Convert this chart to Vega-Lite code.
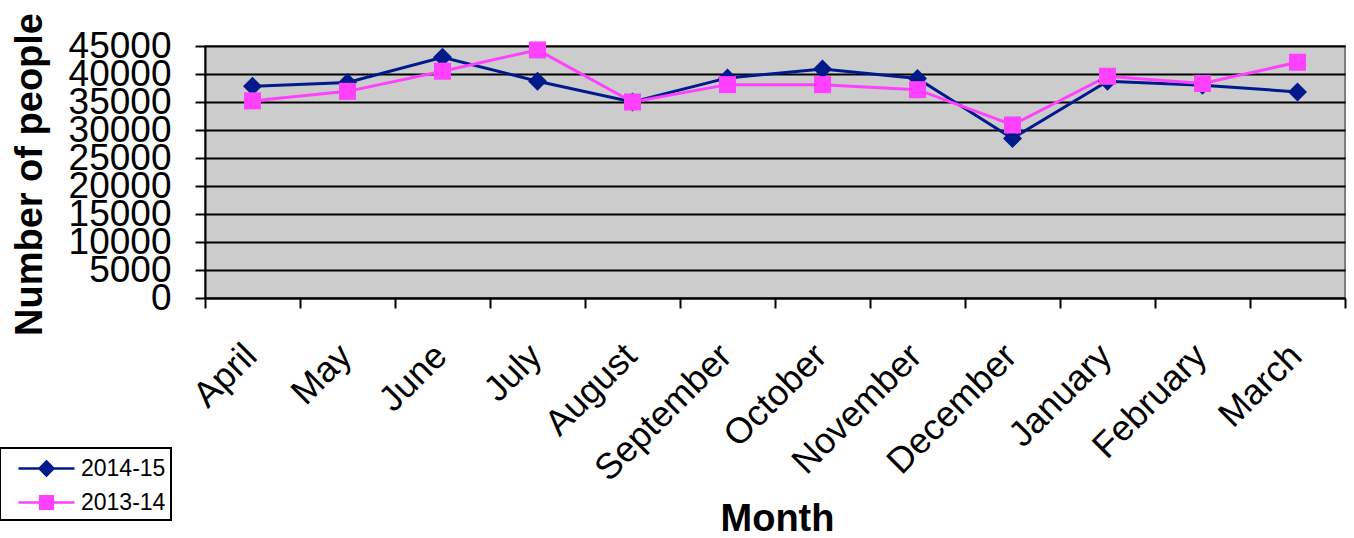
{
  "$schema": "https://vega.github.io/schema/vega-lite/v6.json",
  "autosize": "none",
  "width": 1140,
  "height": 252,
  "padding": {"left": 205, "top": 46, "right": 9, "bottom": 240},
  "background": "white",
  "config": {
    "font": "Liberation Sans",
    "view": {"fill": "#CCCCCC", "stroke": "#808080", "strokeWidth": 2}
  },
  "data": {
    "values": [
      {"month": "April", "series": "2014-15", "people": 37800},
      {"month": "May", "series": "2014-15", "people": 38500},
      {"month": "June", "series": "2014-15", "people": 43000},
      {"month": "July", "series": "2014-15", "people": 38700},
      {"month": "August", "series": "2014-15", "people": 35000},
      {"month": "September", "series": "2014-15", "people": 39300},
      {"month": "October", "series": "2014-15", "people": 40900},
      {"month": "November", "series": "2014-15", "people": 39200},
      {"month": "December", "series": "2014-15", "people": 28500},
      {"month": "January", "series": "2014-15", "people": 38700},
      {"month": "February", "series": "2014-15", "people": 38000},
      {"month": "March", "series": "2014-15", "people": 36800},
      {"month": "April", "series": "2013-14", "people": 35200},
      {"month": "May", "series": "2013-14", "people": 36900},
      {"month": "June", "series": "2013-14", "people": 40500},
      {"month": "July", "series": "2013-14", "people": 44300},
      {"month": "August", "series": "2013-14", "people": 35000},
      {"month": "September", "series": "2013-14", "people": 38100},
      {"month": "October", "series": "2013-14", "people": 38100},
      {"month": "November", "series": "2013-14", "people": 37200},
      {"month": "December", "series": "2013-14", "people": 30900},
      {"month": "January", "series": "2013-14", "people": 39600},
      {"month": "February", "series": "2013-14", "people": 38300},
      {"month": "March", "series": "2013-14", "people": 42100}
    ]
  },
  "encoding": {
    "x": {
      "field": "month",
      "type": "nominal",
      "sort": null,
      "bandPosition": 0.5,
      "scale": {"type": "band", "paddingInner": 0, "paddingOuter": 0},
      "axis": {
        "title": "Month",
        "titleFontSize": 38,
        "titleFontWeight": "bold",
        "titleColor": "black",
        "titleX": 572,
        "titleY": 221,
        "titleAlign": "center",
        "titleBaseline": "middle",
        "labelAngle": -45,
        "labelFontSize": 36,
        "labelColor": "black",
        "labelPadding": 30,
        "labelOffset": -14,
        "labelOverlap": false,
        "labelBound": false,
        "tickBand": "extent",
        "tickSize": 10,
        "tickWidth": 2,
        "tickColor": "black",
        "domainColor": "black",
        "domainWidth": 2,
        "grid": false
      }
    },
    "y": {
      "field": "people",
      "type": "quantitative",
      "scale": {"domain": [0, 45000], "nice": false},
      "axis": {
        "title": "Number of people",
        "titleFontSize": 38,
        "titleFontWeight": "bold",
        "titleColor": "black",
        "titleX": -175,
        "titleY": 128,
        "titleAngle": -90,
        "titleAlign": "center",
        "titleBaseline": "middle",
        "values": [0, 5000, 10000, 15000, 20000, 25000, 30000, 35000, 40000, 45000],
        "format": "d",
        "labelFontSize": 37,
        "labelColor": "black",
        "labelPadding": 24,
        "labelOverlap": false,
        "labelBound": false,
        "tickSize": 10,
        "tickWidth": 2,
        "tickColor": "black",
        "domainColor": "black",
        "domainWidth": 2,
        "grid": true,
        "gridColor": "black",
        "gridWidth": 2
      }
    },
    "color": {
      "field": "series",
      "type": "nominal",
      "scale": {"domain": ["2014-15", "2013-14"], "range": ["#001A8C", "#FF40FF"]},
      "legend": {
        "title": null,
        "orient": "none",
        "legendX": -205,
        "legendY": 402,
        "fillColor": "white",
        "strokeColor": "black",
        "padding": 5,
        "symbolSize": 784,
        "symbolOffset": 26,
        "symbolStrokeWidth": 2.5,
        "labelOffset": 19,
        "labelFontSize": 23,
        "labelColor": "black",
        "rowPadding": 6,
        "labelExpr": "datum.label + '\u00a0\u00a0\u00a0\u00a0\u00a0\u00a0\u00a0'",
        "encode": {
          "legend": {"update": {"strokeWidth": {"value": 2}}},
          "symbols": {
            "update": {
              "shape": {"signal": "datum.value === '2014-15' ? 'M-2,0H2M0,-0.5L0.5,0L0,0.5L-0.5,0Z' : 'M-2,0H2M-0.45,-0.45H0.45V0.45H-0.45Z'"},
              "fill": {"signal": "datum.value === '2014-15' ? '#001A8C' : '#FF40FF'"},
              "stroke": {"signal": "datum.value === '2014-15' ? '#001A8C' : '#FF40FF'"},
              "opacity": {"value": 1},
              "fillOpacity": {"value": 1}
            }
          }
        }
      }
    }
  },
  "layer": [
    {
      "mark": {"type": "line", "strokeWidth": 3}
    },
    {
      "transform": [{"filter": "datum.series === '2014-15'"}],
      "mark": {"type": "point", "filled": true, "opacity": 1, "shape": "diamond", "size": 360}
    },
    {
      "transform": [{"filter": "datum.series === '2013-14'"}],
      "mark": {"type": "point", "filled": true, "opacity": 1, "shape": "square", "size": 290}
    }
  ]
}
